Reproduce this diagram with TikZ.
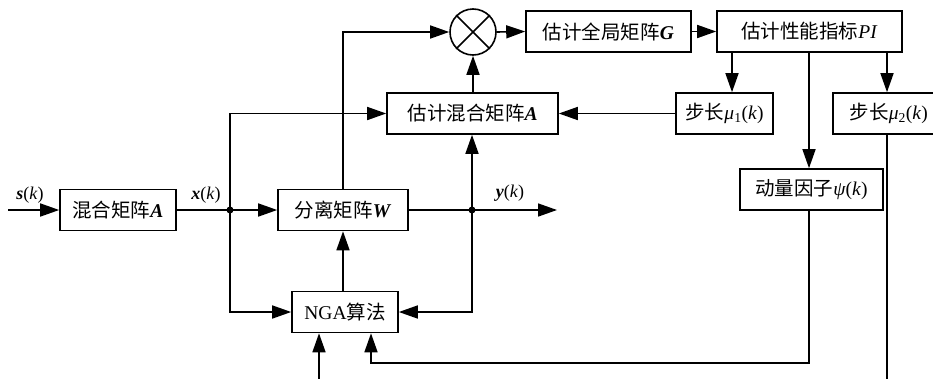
\documentclass[tikz,border=0pt]{standalone}
\usepackage{fontspec}
\setmainfont{Liberation Serif}
\newfontfamily\cjk{Noto Sans CJK SC}
\usetikzlibrary{arrows.meta,calc}
\begin{document}
\begin{tikzpicture}[x=1pt,y=1pt,
  box/.style={draw,line width=1.6pt,minimum height=41pt,inner sep=0pt,font=\fontsize{19.5}{21}\selectfont},
  arr/.style={line width=1.6pt,-{Triangle[length=19pt,width=13pt]}},
  ln/.style={line width=1.6pt},
  lbl/.style={font=\fontsize{18}{20}\selectfont,inner sep=0pt},
  dot/.style={circle,fill,inner sep=0pt,minimum size=7pt}]
\useasboundingbox (0,0) rectangle (933,-378);
\newcommand{\B}[1]{\textbf{\textit{#1}}}
% nodes
\node[box,minimum width=116pt] (mixA) at (118,-210) {{\cjk 混合矩阵}\B{A}};
\node[box,minimum width=130pt] (sepW) at (343,-210) {{\cjk 分离矩阵}\B{W}};
\node[box,minimum width=106pt] (nga) at (345,-312) {NGA{\cjk 算法}};
\node[box,minimum width=171pt] (estA) at (472.5,-113.5) {{\cjk 估计混合矩阵}\B{A}};
\node[draw,circle,line width=1.6pt,minimum size=46pt,inner sep=0pt] (circ) at (473,-32) {};
\draw[line width=1.6pt] (circ.45) -- (circ.225) (circ.135) -- (circ.315);
\node[box,minimum width=165pt] (estG) at (608.5,-31.5) {{\cjk 估计全局矩阵}\B{G}};
\node[box,minimum width=185pt] (estPI) at (809.5,-31.5) {{\cjk 估计性能指标}\textit{PI}};
\node[box,minimum width=97pt] (mu1) at (724.5,-113.5) {{\cjk 步长}\textit{μ}\textsubscript{1}(\textit{k})};
\node[box,anchor=west,text width=104pt,align=left,inner xsep=17pt] (mu2) at (832,-113.5) {{\cjk 步长}\textit{μ}\textsubscript{2}(\textit{k})};
\node[box,minimum width=143pt] (mom) at (811.5,-189.5) {{\cjk 动量因子}\textit{ψ}(\textit{k})};
% labels
\node[lbl] (ls) at (30,-195) {\B{s}(\textit{k})};
\node[lbl] (lx) at (206,-195) {\B{x}(\textit{k})};
\node[lbl] (ly) at (510,-193) {\textit{\textbf{y}}(\textit{k})};
% coordinates
\coordinate (in) at (8,-210);
\coordinate (j1) at (230,-210);
\coordinate (j2) at (472,-210);
\coordinate (out) at (557,-210);
\coordinate (c732) at (732,0);
\coordinate (c809) at (809,0);
\coordinate (c887) at (887,0);
\coordinate (c371) at (371,0);
\coordinate (c319) at (319,0);
\coordinate (fb) at (809,-363);
\coordinate (mu2end) at (887,-385);
\coordinate (bin) at (319,-385);
% connectors
\draw[arr] (in) -- (mixA.west);
\draw[ln] (mixA.east) -- (j1);
\draw[arr] (j1) -- (sepW.west);
\draw[arr] (j1) |- (nga.west);
\draw[arr] (j1) |- (estA.west);
\draw[arr] (sepW.north) |- (circ.west);
\draw[arr] (estA.north -| circ.south) -- (circ.south);
\draw[arr] (circ.east) -- (estG.west);
\draw[arr] (estG.east) -- (estPI.west);
\draw[arr] (estPI.south -| c732) -- (mu1.north -| c732);
\draw[arr] (estPI.south -| c887) -- (mu2.north -| c887);
\draw[arr] (estPI.south -| c809) -- (mom.north -| c809);
\draw[arr] (mu1.west) -- (estA.east);
\draw[ln] (mu2.south -| c887) -- (mu2end);
\draw[arr] (mom.south -| c809) -- (fb) -| (nga.south -| c371);
\draw[arr] (bin) -- (nga.south -| c319);
\draw[arr] (sepW.east) -- (out);
\draw[arr] (j2) -- (estA.south -| j2);
\draw[arr] (j2) |- (nga.east);
\draw[arr] (nga.north -| sepW.south) -- (sepW.south);
\node[dot] (d1) at (j1) {};
\node[dot] (d2) at (j2) {};
\end{tikzpicture}
\end{document}
